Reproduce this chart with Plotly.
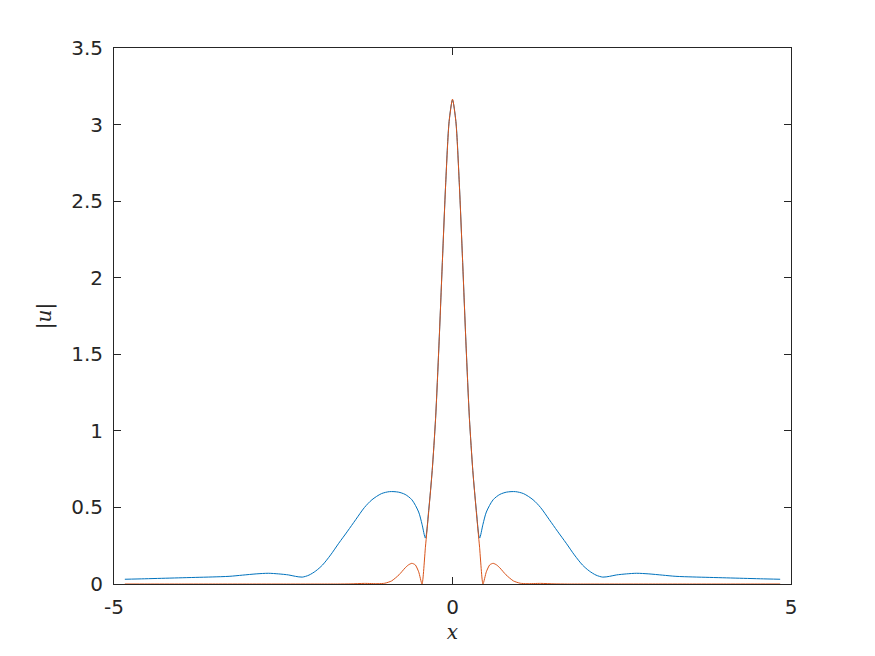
import plotly.graph_objects as go

x_blue = [-4.84, -4.55, -4.30, -4.05, -3.80, -3.55, -3.30, -3.10, -2.90, -2.72,
          -2.57, -2.42, -2.32, -2.22, -2.12, -2.02, -1.92, -1.80, -1.68, -1.55,
          -1.43, -1.30, -1.19, -1.05, -0.93, -0.80, -0.70, -0.60, -0.50, -0.45,
          -0.40, -0.35, -0.30, -0.25, -0.20, -0.15, -0.10, -0.05,
          0.0,
          0.05, 0.10, 0.15, 0.20, 0.25, 0.30, 0.35, 0.40, 0.45, 0.50,
          0.60, 0.70, 0.80, 0.93, 1.05, 1.19, 1.30, 1.43, 1.55, 1.68,
          1.80, 1.92, 2.02, 2.12, 2.22, 2.32, 2.42, 2.57, 2.72, 2.90,
          3.10, 3.30, 3.55, 3.80, 4.05, 4.30, 4.55, 4.84]
u_blue = [0.031, 0.034, 0.037, 0.040, 0.043, 0.046, 0.050, 0.058, 0.066, 0.070,
          0.066, 0.059, 0.050, 0.045, 0.058, 0.085, 0.124, 0.190, 0.266, 0.345,
          0.420, 0.500, 0.550, 0.590, 0.603, 0.600, 0.585, 0.550, 0.470, 0.390,
          0.300, 0.490, 0.740, 1.080, 1.560, 2.100, 2.620, 3.020,
          3.160,
          3.020, 2.620, 2.100, 1.560, 1.080, 0.740, 0.490, 0.300, 0.390, 0.470,
          0.550, 0.585, 0.600, 0.603, 0.590, 0.550, 0.500, 0.420, 0.345, 0.266,
          0.190, 0.124, 0.085, 0.058, 0.045, 0.050, 0.059, 0.066, 0.070, 0.066,
          0.058, 0.050, 0.046, 0.043, 0.040, 0.037, 0.034, 0.031]

x_red = [-4.84, -4.50, -4.00, -3.50, -3.00, -2.50, -2.00, -1.70, -1.50, -1.30,
         -1.10, -1.00, -0.90, -0.79, -0.70, -0.65, -0.60, -0.55, -0.50, -0.45,
         -0.40, -0.35, -0.30, -0.25, -0.20, -0.15, -0.10, -0.05,
         0.0,
         0.05, 0.10, 0.15, 0.20, 0.25, 0.30, 0.35, 0.40,
         0.45, 0.50, 0.55, 0.60, 0.65, 0.70, 0.79, 0.90, 1.00, 1.10,
         1.30, 1.50, 1.70, 2.00, 2.50, 3.00, 3.50, 4.00, 4.50, 4.84]
u_red = [0.0, 0.0, 0.0, 0.0, 0.0, 0.0, 0.0, 0.0, 0.001, 0.004,
         0.002, 0.005, 0.020, 0.060, 0.105, 0.125, 0.135, 0.125, 0.080, 0.0,
         0.240, 0.480, 0.740, 1.080, 1.560, 2.100, 2.620, 3.020,
         3.166,
         3.020, 2.620, 2.100, 1.560, 1.080, 0.740, 0.480, 0.240,
         0.0, 0.080, 0.125, 0.135, 0.125, 0.105, 0.060, 0.020, 0.005, 0.002,
         0.004, 0.001, 0.0, 0.0, 0.0, 0.0, 0.0, 0.0, 0.0, 0.0]

x_ticks = [-5, 0, 5]
x_ticktext = ['-5', '0', '5']
y_ticks = [0, 0.5, 1, 1.5, 2, 2.5, 3, 3.5]
y_ticktext = ['0', '0.5', '1', '1.5', '2', '2.5', '3', '3.5']

axcol = '#262626'

fig = go.Figure()
fig.add_trace(go.Scatter(x=x_blue, y=u_blue, mode='lines',
                         line=dict(color='#0072BD', width=1, shape='spline', smoothing=0.8)))
fig.add_trace(go.Scatter(x=x_red, y=u_red, mode='lines',
                         line=dict(color='#D95319', width=1, shape='spline', smoothing=0.6)))

axis_style = dict(showline=True, linecolor=axcol, linewidth=1, mirror='ticks',
                  ticks='inside', ticklen=7, tickcolor=axcol, tickwidth=1,
                  showgrid=False, zeroline=False, automargin=False,
                  tickfont=dict(family='DejaVu Sans', size=20, color=axcol))

fig.update_xaxes(range=[-5, 5], tickvals=x_ticks, ticktext=x_ticktext,
                 ticklabelstandoff=5,
                 title=dict(text='<i>x</i>', standoff=6,
                            font=dict(family='DejaVu Serif', size=20, color=axcol)),
                 **axis_style)
fig.update_yaxes(range=[0, 3.5], tickvals=y_ticks, ticktext=y_ticktext,
                 ticklabelstandoff=6,
                 title=dict(text='|<i>u</i>|', standoff=14,
                            font=dict(family='DejaVu Serif', size=20, color=axcol)),
                 **axis_style)

# page body adds ~8px offset, so margins are shifted to keep the axes box in place
fig.update_layout(width=875, height=656, showlegend=False,
                  plot_bgcolor='white', paper_bgcolor='white',
                  margin=dict(l=106, r=92, t=40, b=80))

fig.write_html("out.html")
